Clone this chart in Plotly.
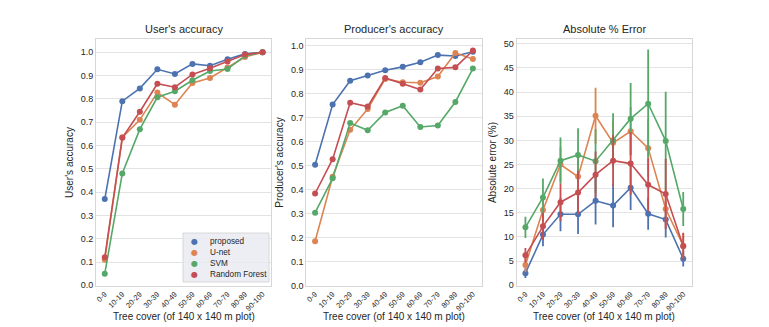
import plotly.graph_objects as go
from plotly.subplots import make_subplots

# Kategorien (Baumbedeckung in %)
cover = ["0-9", "10-19", "20-29", "30-39", "40-49", "50-59", "60-69", "70-79", "80-89", "90-100"]

methods = ["proposed", "U-net", "SVM", "Random Forest"]
colors = ["#4C72B0", "#DD8452", "#55A868", "#C44E52"]

# User's accuracy
ua_proposed = [0.37, 0.79, 0.845, 0.927, 0.907, 0.95, 0.942, 0.97, 0.993, 1.0]
ua_unet = [0.11, 0.635, 0.71, 0.827, 0.775, 0.868, 0.89, 0.935, 0.98, 1.0]
ua_svm = [0.05, 0.48, 0.67, 0.807, 0.833, 0.88, 0.92, 0.928, 0.985, 1.0]
ua_rf = [0.12, 0.633, 0.745, 0.865, 0.85, 0.905, 0.932, 0.96, 0.99, 1.0]

# Producer's accuracy
pa_proposed = [0.505, 0.755, 0.854, 0.876, 0.898, 0.912, 0.931, 0.961, 0.957, 0.975]
pa_unet = [0.186, 0.455, 0.65, 0.737, 0.862, 0.848, 0.846, 0.872, 0.97, 0.945]
pa_svm = [0.305, 0.448, 0.678, 0.648, 0.722, 0.75, 0.662, 0.668, 0.766, 0.905]
pa_rf = [0.385, 0.528, 0.763, 0.747, 0.866, 0.842, 0.818, 0.905, 0.91, 0.98]

# Absoluter Fehler (%) und Fehlerbalken (+/-)
err_proposed = [2.5, 10.5, 14.7, 14.7, 17.5, 16.5, 20.2, 14.8, 13.6, 5.5]
err_unet = [4.2, 15.6, 25.0, 22.5, 35.1, 29.5, 31.9, 28.4, 15.8, 8.2]
err_svm = [12.0, 18.2, 25.8, 27.0, 25.7, 30.0, 34.5, 37.6, 29.9, 15.8]
err_rf = [6.2, 12.2, 17.2, 19.2, 22.9, 25.8, 25.2, 20.8, 18.9, 8.1]

ci_proposed = [1.0, 2.4, 3.5, 4.1, 4.9, 4.5, 4.6, 3.3, 3.7, 1.6]
ci_unet = [1.5, 2.5, 3.6, 4.0, 5.8, 4.5, 5.0, 6.0, 4.0, 2.6]
ci_svm = [2.2, 3.9, 4.8, 5.5, 6.6, 5.6, 7.4, 11.2, 10.2, 3.5]
ci_rf = [1.5, 2.8, 3.9, 4.5, 4.8, 5.3, 6.5, 5.5, 7.3, 2.8]

ua = [ua_proposed, ua_unet, ua_svm, ua_rf]
pa = [pa_proposed, pa_unet, pa_svm, pa_rf]
err = [err_proposed, err_unet, err_svm, err_rf]
ci = [ci_proposed, ci_unet, ci_svm, ci_rf]

FONT = "Liberation Sans, Arial, sans-serif"
TXT = "#262626"

# die HTML-Seite hat 8px Rand -> Figur entsprechend kleiner und verschoben
OFF = 8
W, H = 769 - OFF, 327 - OFF
ml, mt = 96 - OFF, 39 - OFF
mb = 327 - 286
mr = 769 - 692
pw = W - ml - mr
ph = H - mt - mb


def px_x(x):
    # Seitenpixel -> paper-Koordinate
    return (x - OFF - ml) / pw


def px_y(y):
    return (H - mb - (y - OFF)) / ph


fig = make_subplots(rows=1, cols=3, horizontal_spacing=35 / pw)

for i, name in enumerate(methods):
    c = colors[i]
    fig.add_trace(go.Scatter(x=cover, y=ua[i], mode="lines+markers", line=dict(color=c, width=1.6),
                             marker=dict(color=c, size=6), name=name), row=1, col=1)
    fig.add_trace(go.Scatter(x=cover, y=pa[i], mode="lines+markers", line=dict(color=c, width=1.6),
                             marker=dict(color=c, size=6), name=name), row=1, col=2)
    fig.add_trace(go.Scatter(x=cover, y=err[i], mode="lines+markers", line=dict(color=c, width=1.6),
                             marker=dict(color=c, size=6), name=name,
                             error_y=dict(type="data", array=ci[i], color=c, thickness=1.8, width=0)),
                  row=1, col=3)

axis_common = dict(showline=True, mirror=True, linecolor="#D6D6D6", linewidth=1,
                   ticks="", automargin=False)

for col in (1, 2, 3):
    fig.update_xaxes(axis_common, type="category", range=[-0.5, 9.5], tickangle=-45, showgrid=False,
                     tickfont=dict(size=7.5, color=TXT, family=FONT), row=1, col=col)

ytick = dict(size=9, color=TXT, family=FONT)
ytitle = dict(size=10, color=TXT, family=FONT)
fig.update_yaxes(axis_common, range=[-0.003, 1.057], dtick=0.1, tickformat=".1f", showgrid=True,
                 gridcolor="#E3E3E3", zeroline=False, tickfont=ytick,
                 title=dict(text="User's accuracy", font=ytitle, standoff=5), row=1, col=1)
fig.update_yaxes(axis_common, range=[0, 1.028], dtick=0.1, tickformat=".1f", showgrid=True,
                 gridcolor="#E3E3E3", zeroline=False, tickfont=ytick,
                 title=dict(text="Producer's accuracy", font=ytitle, standoff=5), row=1, col=2)
fig.update_yaxes(axis_common, range=[-0.15, 51.0], dtick=5, showgrid=True,
                 gridcolor="#E3E3E3", zeroline=False, tickfont=ytick,
                 title=dict(text="Absolute error (%)", font=ytitle, standoff=5), row=1, col=3)

# Titel oben und x-Achsentitel unten
titles = ["User's accuracy", "Producer's accuracy", "Absolute % Error"]
for k, t in enumerate(titles):
    dom = fig.layout["xaxis" + ("" if k == 0 else str(k + 1))].domain
    xc = (dom[0] + dom[1]) / 2
    fig.add_annotation(text=t, x=xc, y=1, xref="paper", yref="paper",
                       xanchor="center", yanchor="bottom", yshift=2, showarrow=False,
                       font=dict(size=11, color=TXT, family=FONT))
    fig.add_annotation(text="Tree cover (of 140 x 140 m plot)", x=xc, y=px_y(316), xref="paper", yref="paper",
                       xanchor="center", yanchor="middle", showarrow=False,
                       font=dict(size=10, color=TXT, family=FONT))

# Legende (kompakt, nur Punkte) im ersten Panel unten rechts
fig.add_shape(type="rect", xref="paper", yref="paper",
              x0=px_x(183), x1=px_x(269), y0=px_y(282), y1=px_y(233),
              fillcolor="rgba(234,234,242,0.85)", line=dict(color="#D8D8D8", width=1), layer="above")
for i, name in enumerate(methods):
    yy = px_y(241 + i * 11.2)
    fig.add_annotation(text="●", x=px_x(194.5), y=yy, xref="paper", yref="paper",
                       xanchor="center", yanchor="middle", showarrow=False,
                       font=dict(size=8, color=colors[i], family="DejaVu Sans"))
    fig.add_annotation(text=name, x=px_x(208), y=yy, xref="paper", yref="paper",
                       xanchor="left", yanchor="middle", showarrow=False,
                       font=dict(size=8.2, color=TXT, family=FONT))

fig.update_layout(
    width=W, height=H,
    margin=dict(l=ml, r=mr, t=mt, b=mb),
    paper_bgcolor="white", plot_bgcolor="white",
    font=dict(family=FONT, color=TXT),
    showlegend=False,
)

fig.write_html("out.html")
